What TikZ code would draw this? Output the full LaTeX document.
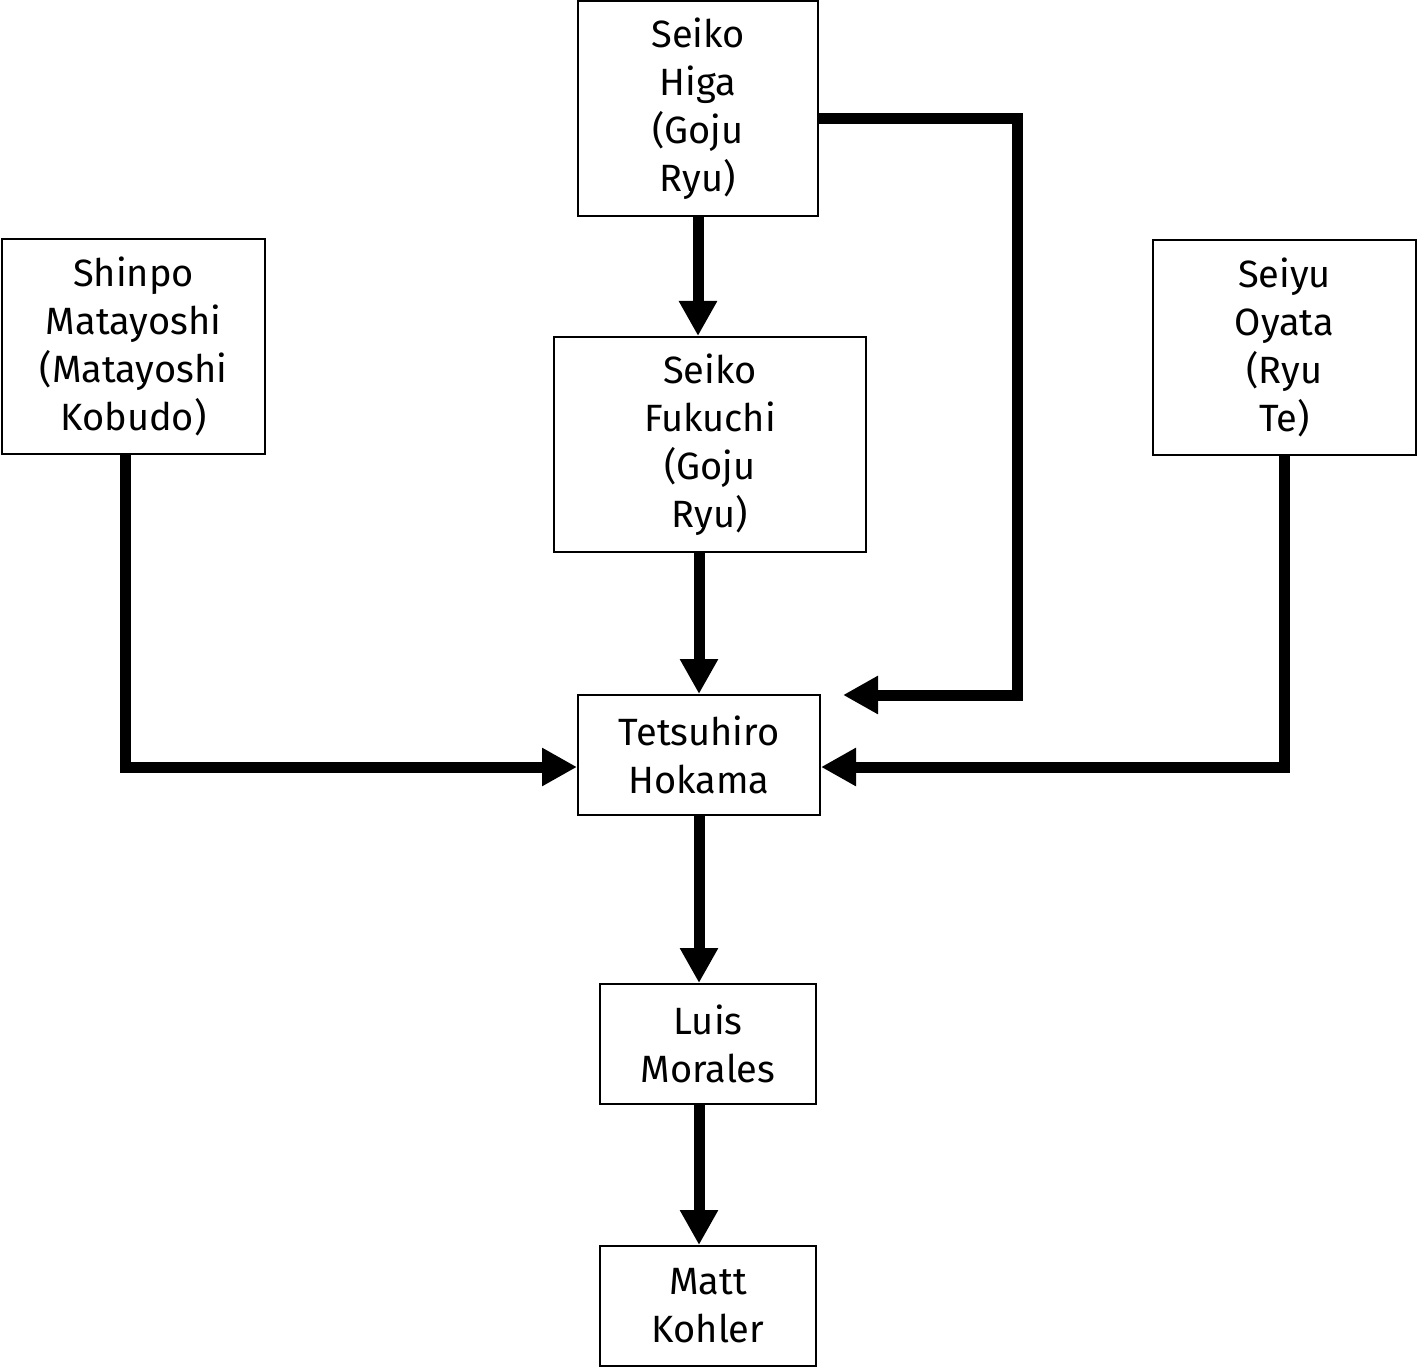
\documentclass[tikz,border=0pt]{standalone}
\usepackage{fontspec}
\setmainfont{Fira Sans}
\usetikzlibrary{arrows.meta,positioning,calc}
\tikzset{
  person/.style={draw, line width=1pt, align=center, font=\fontsize{19}{24}\selectfont,
                 inner sep=0pt},
  flow/.style={-{Triangle[length=17.5pt, width=18pt]}, line width=5.5pt},
}

\begin{document}
\begin{tikzpicture}[x=0.5pt, y=-0.5pt]
  \useasboundingbox (0,0) rectangle (1417,1368);
  \node[person, minimum width=120pt, minimum height=107.5pt] (higa) at (698,108.5) {Seiko\\Higa\\(Goju\\Ryu)};
  \node[person, minimum width=131.5pt, minimum height=107.5pt] (shinpo) at (133.5,346.5) {Shinpo\\Matayoshi\\(Matayoshi\\Kobudo)};
  \node[person, minimum width=156pt, minimum height=107.5pt] (fukuchi) at (710,444.5) {Seiko\\Fukuchi\\(Goju\\Ryu)};
  \node[person, minimum width=131.5pt, minimum height=107.5pt] (seiyu) at (1284.5,347.5) {Seiyu\\Oyata\\(Ryu\\Te)};
  \node[person, minimum width=121pt, minimum height=60pt] (tetsu) at (699,755) {Tetsuhiro\\Hokama};
  \node[person, minimum width=108pt, minimum height=60pt] (luis) at (708,1044) {Luis\\Morales};
  \node[person, minimum width=108pt, minimum height=60pt] (matt) at (708,1306) {Matt\\Kohler};
  \coordinate (hook) at (1017,695);
  \coordinate (hookEnd) at (843,695);
  % lineage arrows
  \draw[flow] (higa.south) -- (fukuchi.north -| higa.south);
  \draw[flow] (fukuchi.south -| tetsu.north) -- (tetsu.north);
  \draw[flow] ([yshift=-5pt]higa.east) -| (hook) -- (hookEnd);
  \draw[flow] ([xshift=-4.25pt]shinpo.south) |- ([yshift=-6pt]tetsu.west);
  \draw[flow] (seiyu.south) |- ([yshift=-6pt]tetsu.east);
  \draw[flow] (tetsu.south) -- (tetsu.south |- luis.north);
  \draw[flow] (luis.south -| tetsu.south) -- (tetsu.south |- matt.north);
\end{tikzpicture}
\end{document}
